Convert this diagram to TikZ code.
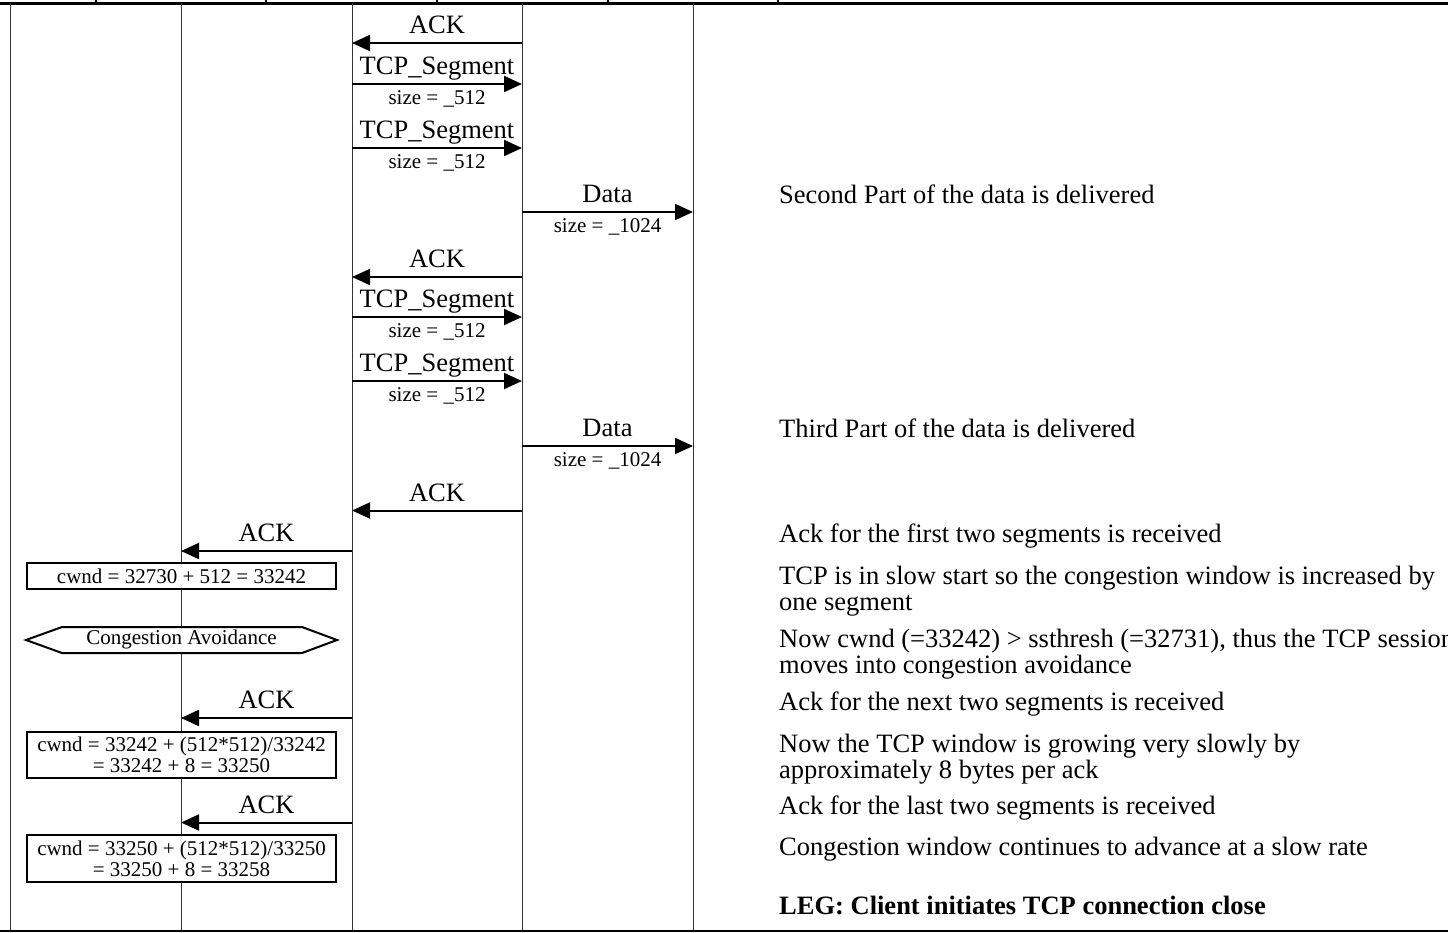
\documentclass[tikz,border=0pt]{standalone}
\usepackage{fontspec}
\setmainfont{Liberation Serif}
\usetikzlibrary{arrows.meta,calc}

% message arrow between two lifelines: name, from x, to x, y, label, size label
\newcommand\tcpmsg[6]{%
  \coordinate (#1-s) at (#2,#4);
  \coordinate (#1-e) at (#3,#4);
  \draw[msg] (#1-s) -- (#1-e);
  \node[big,anchor=base] (#1-l) at ($(#1-s)!0.5!(#1-e)+(0,-9.5)$) {#5};
  \if\relax\detokenize{#6}\relax\else
    \node[small,anchor=base] (#1-z) at ($(#1-s)!0.5!(#1-e)+(0,20)$) {#6};
  \fi
}

\begin{document}
\begin{tikzpicture}[x=1pt,y=-1pt,
  lifeline/.style={line width=1pt,black!80},
  frameline/.style={line width=3pt},
  msg/.style={line width=2pt,-{Triangle[length=18pt,width=16pt]}},
  big/.style={font=\fontsize{26.5pt}{26pt}\selectfont,inner sep=0pt},
  small/.style={font=\fontsize{21pt}{21pt}\selectfont,inner sep=0pt},
  note/.style={big,anchor=base west},
  calcbox/.style={draw,fill=white,line width=2pt,small,minimum width=309pt,align=center}]
\useasboundingbox (0,0) rectangle (1448,932);

% frame
\draw[frameline] (0,3) -- (1448,3);
\foreach \x in {96,266,437,608,778} \draw[line width=2pt] (\x,0) -- (\x,3);
\draw[line width=2pt] (0,930.5) -- (1448,930.5);

% lifelines
\foreach \n/\x in {A/10,B/181,C/352,D/522,E/693}{
  \coordinate (top\n) at (\x,3);
  \coordinate (bot\n) at (\x,930);
  \draw[lifeline] (top\n) -- (bot\n);
}

% messages
\tcpmsg{m1}{522}{352}{43}{ACK}{}
\tcpmsg{m2}{352}{522}{84}{TCP\_Segment}{size = \_512}
\tcpmsg{m3}{352}{522}{148}{TCP\_Segment}{size = \_512}
\tcpmsg{m4}{522}{693}{212}{Data}{size = \_1024}
\tcpmsg{m5}{522}{352}{277}{ACK}{}
\tcpmsg{m6}{352}{522}{317}{TCP\_Segment}{size = \_512}
\tcpmsg{m7}{352}{522}{381}{TCP\_Segment}{size = \_512}
\tcpmsg{m8}{522}{693}{446}{Data}{size = \_1024}
\tcpmsg{m9}{522}{352}{510.5}{ACK}{}
\tcpmsg{m10}{352}{181}{551}{ACK}{}
\tcpmsg{m11}{352}{181}{718}{ACK}{}
\tcpmsg{m12}{352}{181}{822.5}{ACK}{}

% congestion window boxes
\node[calcbox,minimum height=26pt] (cw1) at (181.5,576) {cwnd = 32730 + 512 = 33242};
\node[calcbox,minimum height=46pt] (cw2) at (181.5,755) {cwnd = 33242 + (512*512)/33242\\= 33242 + 8 = 33250};
\node[calcbox,minimum height=47pt] (cw3) at (181.5,858.5) {cwnd = 33250 + (512*512)/33250\\= 33250 + 8 = 33258};

% state marker
\draw[line width=2pt,fill=white] (26,640) -- (62,627) -- (302,627) -- (337,640) -- (302,653) -- (62,653) -- cycle;
\node[small] (ca) at (181.5,639) {Congestion Avoidance};

% comments on the right
\node[note] (n1) at (779,203) {Second Part of the data is delivered};
\node[note] (n2) at (779,437) {Third Part of the data is delivered};
\node[note] (n3) at (779,542) {Ack for the first two segments is received};
\node[note] (n4a) at (779,584) {TCP is in slow start so the congestion window is increased by};
\node[note] (n4b) at (779,610) {one segment};
\node[note] (n5a) at (779,647) {Now cwnd (=33242) > ssthresh (=32731), thus the TCP session};
\node[note] (n5b) at (779,673) {moves into congestion avoidance};
\node[note] (n6) at (779,710) {Ack for the next two segments is received};
\node[note] (n7a) at (779,752) {Now the TCP window is growing very slowly by};
\node[note] (n7b) at (779,778) {approximately 8 bytes per ack};
\node[note] (n8) at (779,814) {Ack for the last two segments is received};
\node[note] (n9) at (779,855) {Congestion window continues to advance at a slow rate};
\node[note,font=\fontsize{26.5pt}{26pt}\selectfont\bfseries] (n10) at (779,914) {LEG: Client initiates TCP connection close};
\end{tikzpicture}
\end{document}
